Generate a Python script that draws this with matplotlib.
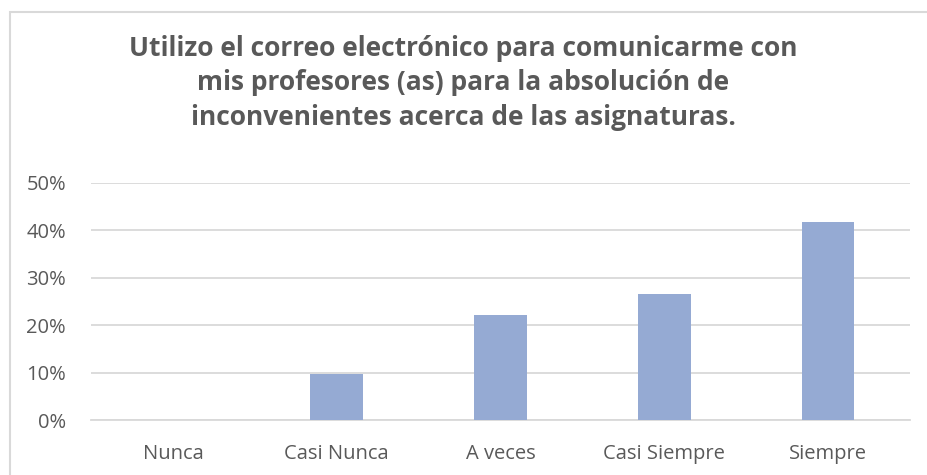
import matplotlib
matplotlib.use("Agg")
import matplotlib.pyplot as plt
from matplotlib.patches import Rectangle
from matplotlib.ticker import FuncFormatter

# data
categories = ["Nunca", "Casi Nunca", "A veces", "Casi Siempre", "Siempre"]
values = [0.0, 9.7, 22.1, 26.5, 41.8]
yticks = [0, 10, 20, 30, 40, 50]
title = ("Utilizo el correo electrónico para comunicarme con\n"
         "mis profesores (as) para la absolución de\n"
         "inconvenientes acerca de las asignaturas.")

plt.rcParams['font.family'] = ['Open Sans', 'DejaVu Sans']

fig = plt.figure(figsize=(9.27, 4.75), dpi=100)
fig.patch.set_facecolor('white')

# light gray outline of the chart area (only top and left are visible)
fig.patches.append(Rectangle((10 / 927, -0.05), 1.2, 1 - 12 / 475 + 0.05,
                             transform=fig.transFigure, fill=False,
                             edgecolor='#d9d9d9', linewidth=1.5))

ax = fig.add_axes([91 / 927, 1 - 420 / 475, (910 - 91) / 927, (420 - 183) / 475])
x = range(len(categories))
ax.bar(x, values, width=0.32, color='#95aad3', zorder=3)

ax.set_xlim(-0.5, len(categories) - 0.5)
ax.set_ylim(0, 50)
ax.set_yticks(yticks)
ax.yaxis.set_major_formatter(FuncFormatter(lambda v, p: f"{int(v)}%"))
ax.set_xticks(list(x))
ax.set_xticklabels(categories)
ax.tick_params(axis='both', length=0, labelsize=14.5, colors='#595959')
ax.tick_params(axis='y', pad=18)
ax.tick_params(axis='x', pad=17)

ax.grid(axis='y', color='#d9d9d9', linewidth=1.3, zorder=0)
for s in ['top', 'right', 'left']:
    ax.spines[s].set_visible(False)
ax.spines['bottom'].set_color('#d9d9d9')
ax.spines['bottom'].set_linewidth(1.3)

fig.text(0.5, 1 - 83 / 475, title, ha='center', va='center', fontsize=19,
         fontweight='bold', color='#595959', linespacing=1.38)

fig.savefig("out.png", dpi=100)
